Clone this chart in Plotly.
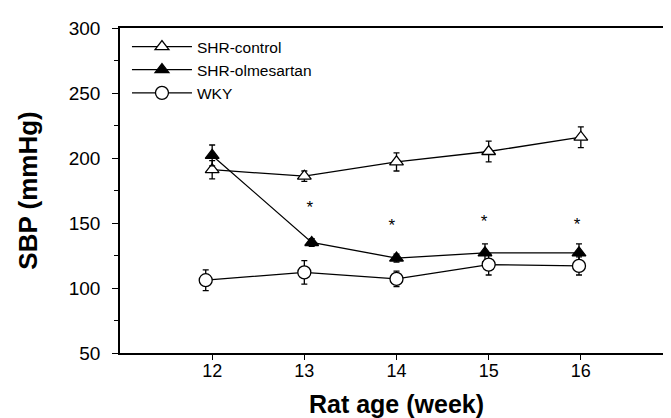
import plotly.graph_objects as go

weeks = [12, 13, 14, 15, 16]

# SHR-control (open triangles)
ctrl_x = [12, 13, 14, 15, 16]
ctrl_y = [191, 186, 197, 205, 216]
ctrl_err = [7, 4, 7, 8, 8]

# SHR-olmesartan (filled triangles)
olm_x = [12, 13.08, 14, 14.96, 15.98]
olm_y = [202, 135, 123, 127, 127]
olm_err = [8, 3, 3, 7, 7]

# WKY (open circles)
wky_x = [11.93, 13, 14, 15, 15.98]
wky_y = [106, 112, 107, 118, 117]
wky_err = [8, 9, 6, 8, 7]

# significance markers
star_x = [13.06, 13.95, 14.95, 15.96]
star_y = [161, 147, 150, 148]

font_family = "Arial, 'Liberation Sans', sans-serif"

fig = go.Figure()

fig.add_trace(go.Scatter(
    x=ctrl_x, y=ctrl_y, name="SHR-control", mode="lines+markers",
    line=dict(color="black", width=1.3),
    marker=dict(symbol="triangle-up", size=12, color="white",
                line=dict(color="black", width=1.3)),
    error_y=dict(type="data", array=ctrl_err, visible=True,
                 color="black", thickness=1.3, width=3),
))
fig.add_trace(go.Scatter(
    x=olm_x, y=olm_y, name="SHR-olmesartan", mode="lines+markers",
    line=dict(color="black", width=1.3),
    marker=dict(symbol="triangle-up", size=12, color="black",
                line=dict(color="black", width=1.3)),
    error_y=dict(type="data", array=olm_err, visible=True,
                 color="black", thickness=1.3, width=3),
))
fig.add_trace(go.Scatter(
    x=wky_x, y=wky_y, name="WKY", mode="lines+markers",
    line=dict(color="black", width=1.3),
    marker=dict(symbol="circle", size=13, color="white",
                line=dict(color="black", width=1.3)),
    error_y=dict(type="data", array=wky_err, visible=True,
                 color="black", thickness=1.3, width=3),
))
fig.add_trace(go.Scatter(
    x=star_x, y=star_y, mode="text", text=["*"] * len(star_x),
    textposition="middle center", showlegend=False,
    textfont=dict(family=font_family, size=17, color="black"),
    hoverinfo="skip",
))

fig.update_layout(
    width=671, height=418,
    margin=dict(l=112, r=4, t=20, b=73),
    paper_bgcolor="white", plot_bgcolor="white",
    font=dict(family=font_family, color="black"),
    showlegend=True,
    legend=dict(x=0.0126, y=0.994, xanchor="left", yanchor="top",
                bgcolor="rgba(0,0,0,0)", font=dict(size=15.5),
                tracegroupgap=0, itemwidth=60),
    xaxis=dict(
        range=[11, 17], tickvals=weeks, ticktext=[str(w) for w in weeks],
        showgrid=False, zeroline=False, showline=True, linecolor="black",
        linewidth=1.5, mirror=True, ticks="outside", ticklen=5,
        tickwidth=1.3, tickcolor="black", tickfont=dict(size=18),
        ticklabelstandoff=-4,
        title=dict(text="<b>Rat age (week)</b>", font=dict(size=25), standoff=15),
    ),
    yaxis=dict(
        range=[50, 300], tickvals=[50, 100, 150, 200, 250, 300],
        showgrid=False, zeroline=False, showline=True, linecolor="black",
        linewidth=1.5, mirror=True, ticks="outside", ticklen=6,
        tickwidth=1.3, tickcolor="black", tickfont=dict(size=19),
        ticklabelstandoff=8,
        minor=dict(dtick=25, ticks="outside", ticklen=4, tickwidth=1.2,
                   tickcolor="black", showgrid=False),
        title=dict(text="<b>SBP (mmHg)</b>", font=dict(size=26), standoff=24),
    ),
)

fig.write_html("out.html")
